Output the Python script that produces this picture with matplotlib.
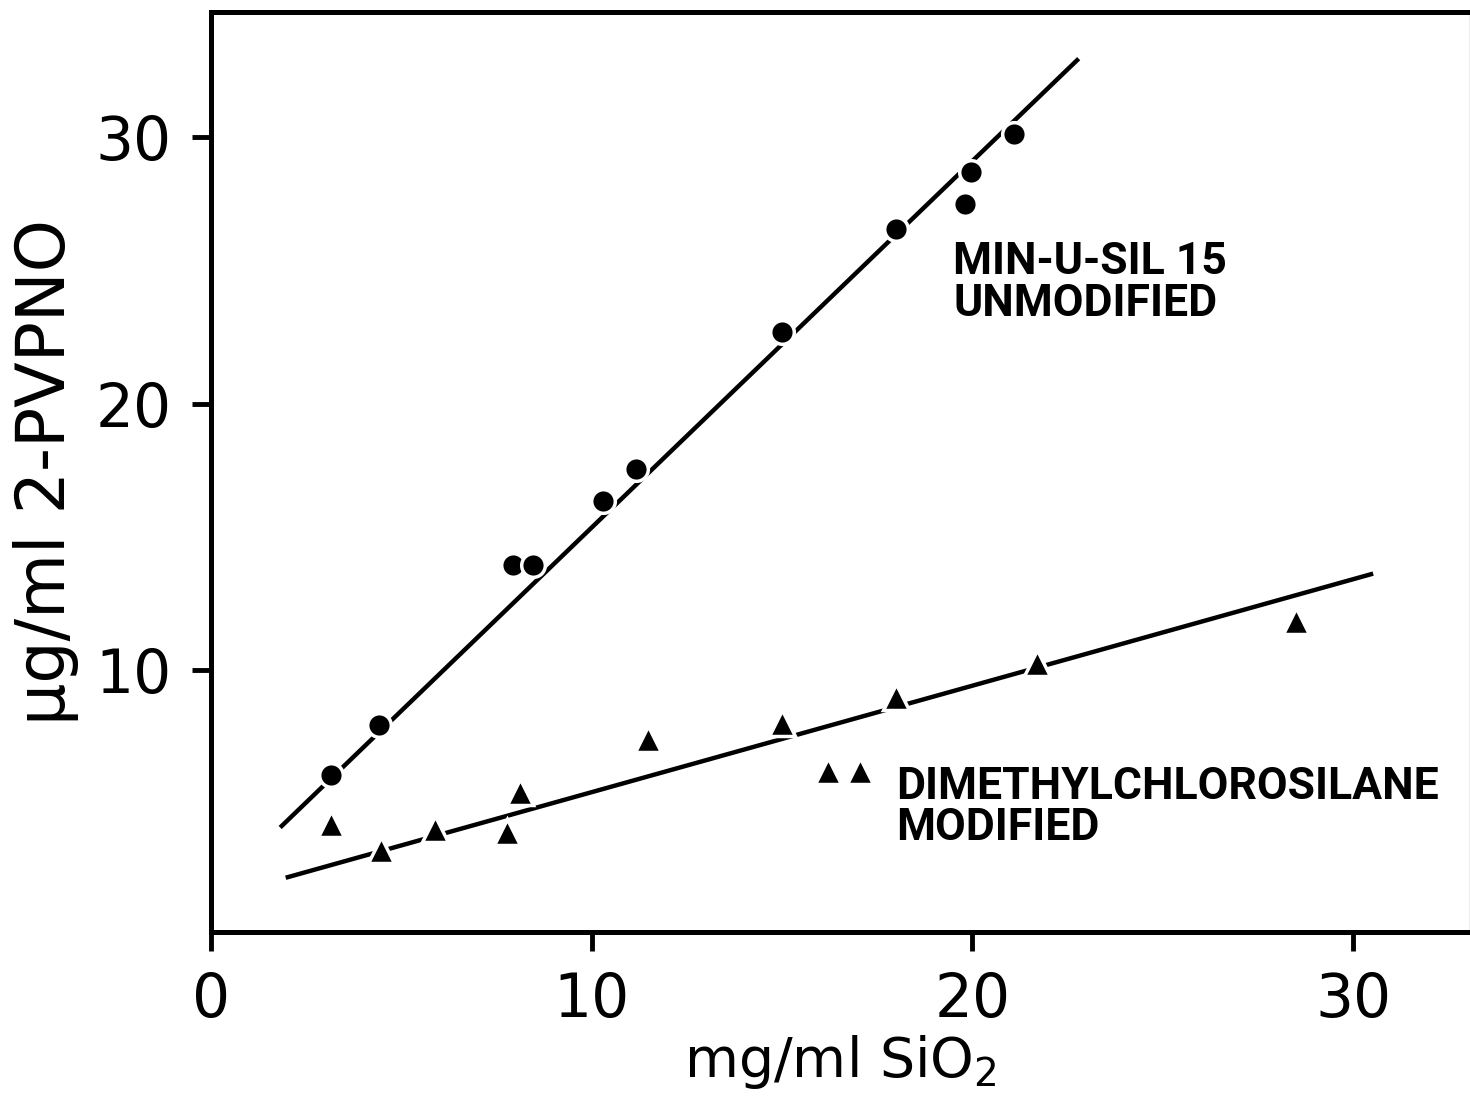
import numpy as np
import matplotlib.pyplot as plt

# Min-U-Sil 15, unmodified (circles)
unmod_x = [3.15, 4.41, 7.93, 8.46, 10.30, 11.16, 15.0, 17.99, 19.8, 19.96, 21.09]
unmod_y = [6.06, 7.94, 13.94, 13.94, 16.34, 17.54, 22.68, 26.55, 27.49, 28.69, 30.11]

# dimethylchlorosilane modified (triangles)
mod_x = [3.15, 4.47, 5.88, 7.77, 8.12, 11.48, 15.0, 16.2, 17.05, 17.99, 21.7, 28.5]
mod_y = [4.22, 3.24, 4.03, 3.92, 5.42, 7.41, 8.01, 6.21, 6.21, 8.98, 10.26, 11.84]

# fitted lines: (slope, intercept, x start, x end)
unmod_fit = (1.376, 1.59, 1.86, 22.75)
mod_fit = (0.3997, 1.42, 2.02, 30.47)

x_ticks = [0, 10, 20, 30]
y_ticks = [10, 20, 30]

plt.rcParams['font.family'] = ['DejaVu Sans']

fig = plt.figure(figsize=(14.7, 10.99), dpi=100)
ax = fig.add_axes([0.1435, 0.152, 0.8565, 0.837])

for slope, icpt, x0, x1 in (unmod_fit, mod_fit):
    xs = np.array([x0, x1])
    ax.plot(xs, slope * xs + icpt, color='black', lw=3.2, zorder=2)

ax.plot(unmod_x, unmod_y, 'o', ms=17, mfc='black', mec='white', mew=2.5, zorder=3)
ax.plot(mod_x, mod_y, '^', ms=19, mfc='black', mec='white', mew=2.5, zorder=3)

label_font = dict(fontsize=32, fontweight='bold', family=['Roboto', 'DejaVu Sans'],
                  linespacing=0.98, va='top', ha='left')
ax.text(19.5, 26.1, 'MIN-U-SIL 15\nUNMODIFIED', **label_font)
ax.text(18.0, 6.4, 'DIMETHYLCHLOROSILANE\nMODIFIED', **label_font)

ax.set_xlim(0, 33.07)
ax.set_ylim(0.17, 34.7)
ax.set_xticks(x_ticks)
ax.set_yticks(y_ticks)
ax.tick_params(axis='both', direction='out', length=14, width=3.5, labelsize=43, pad=14)

for side in ('left', 'bottom', 'top'):
    ax.spines[side].set_linewidth(3.6)
ax.spines['right'].set_linewidth(1.0)
ax.spines['right'].set_color('0.6')

ax.set_xlabel('mg/ml SiO$_2$', fontsize=40, labelpad=2)
ax.set_ylabel('μg/ml 2-PVPNO', fontsize=48, labelpad=12)

fig.savefig('out.png', dpi=100)
